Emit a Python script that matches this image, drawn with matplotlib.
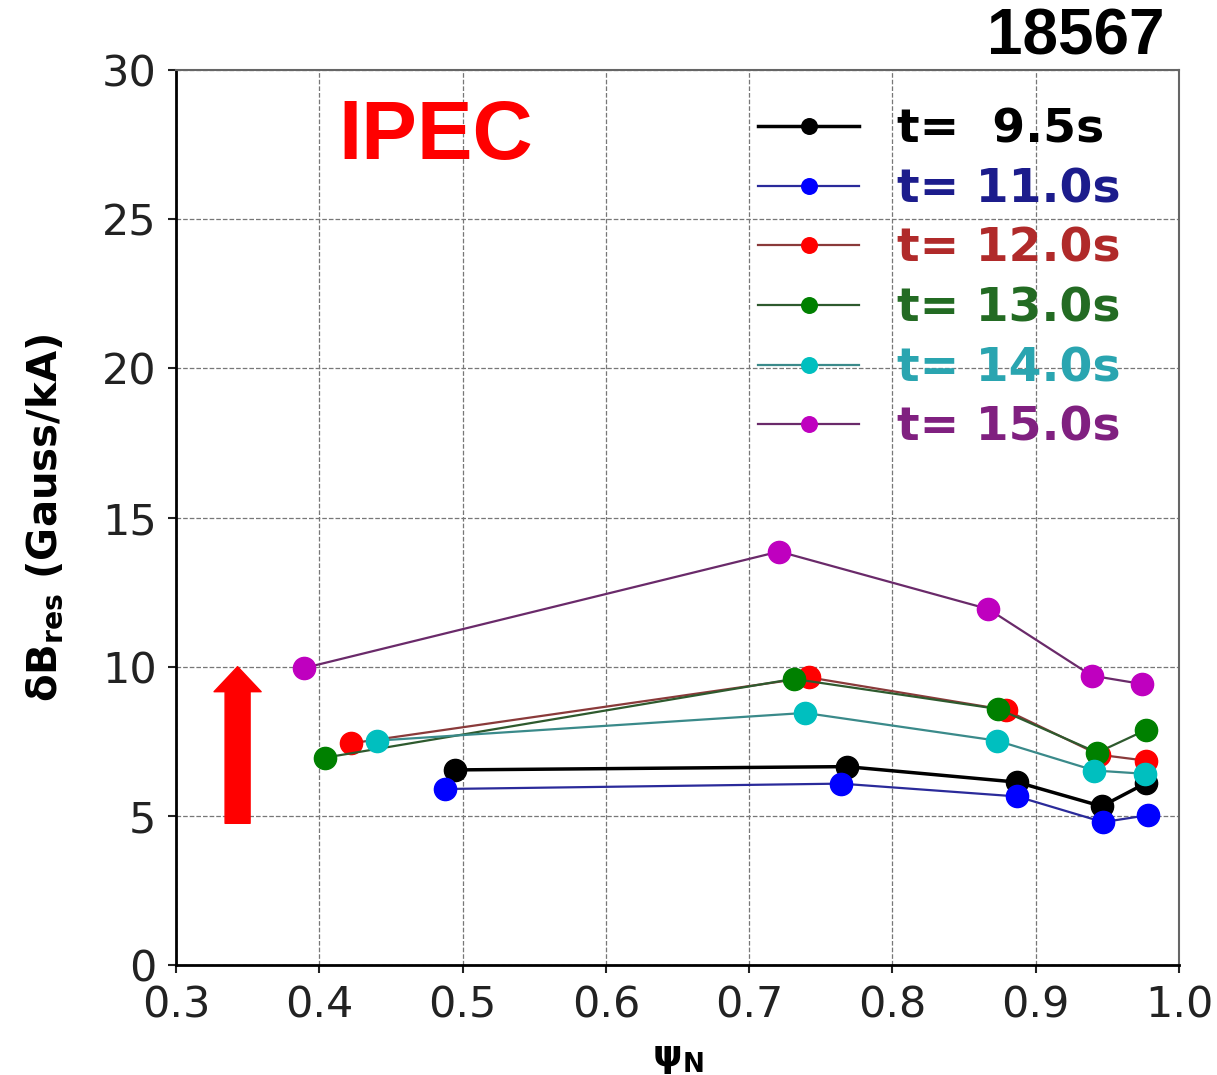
import matplotlib
matplotlib.use('Agg')
import matplotlib.pyplot as plt

# resonant field vs psi_N for each time slice
labels = ['t=  9.5s', 't= 11.0s', 't= 12.0s', 't= 13.0s', 't= 14.0s', 't= 15.0s']

psi_95 = [0.495, 0.768, 0.887, 0.946, 0.977]
db_95 = [6.54, 6.65, 6.13, 5.32, 6.10]

psi_110 = [0.488, 0.764, 0.887, 0.947, 0.978]
db_110 = [5.90, 6.08, 5.65, 4.79, 5.02]

psi_120 = [0.422, 0.742, 0.879, 0.944, 0.977]
db_120 = [7.43, 9.64, 8.55, 7.05, 6.85]

psi_130 = [0.404, 0.731, 0.874, 0.943, 0.977]
db_130 = [6.95, 9.59, 8.58, 7.12, 7.88]

psi_140 = [0.440, 0.739, 0.873, 0.941, 0.976]
db_140 = [7.52, 8.45, 7.52, 6.52, 6.41]

psi_150 = [0.389, 0.721, 0.867, 0.939, 0.974]
db_150 = [9.95, 13.86, 11.93, 9.70, 9.42]

marker_colors = ['black', 'blue', 'red', 'green', 'c', 'm']
line_colors = ['black', '#2a2a9a', '#8a3a3a', '#2e5a2e', '#3a8a8a', '#6a2a6a']
text_colors = ['black', '#1c1c8c', '#b02a2a', '#236b23', '#2aa5b0', '#802080']

fig = plt.figure(figsize=(12.17, 10.75), dpi=100)
ax = fig.add_axes([0.1446, 0.1023, 0.8242, 0.8326])

series = [(psi_95, db_95), (psi_110, db_110), (psi_120, db_120),
          (psi_130, db_130), (psi_140, db_140), (psi_150, db_150)]
for i, (x, y) in enumerate(series):
    lw = 2.5 if i == 0 else 1.6
    ax.plot(x, y, '-o', color=line_colors[i], lw=lw, ms=16,
            mfc=marker_colors[i], mec=marker_colors[i], label=labels[i])

ax.set_xlim(0.3, 1.0)
ax.set_ylim(0, 30)
ax.set_xticks([0.3, 0.4, 0.5, 0.6, 0.7, 0.8, 0.9, 1.0])
ax.set_yticks([0, 5, 10, 15, 20, 25, 30])
ax.tick_params(labelsize=31, length=6, width=1.5, direction='out', colors='#222222', pad=8)
ax.grid(True, ls='--', color='#777777', lw=0.9)
for s in ['left', 'bottom']:
    ax.spines[s].set_linewidth(2)
for s in ['top', 'right']:
    ax.spines[s].set_color('#666666')
    ax.spines[s].set_linewidth(1.5)

ax.set_ylabel(r'δB$_{\mathbf{res}}$ (Gauss/kA)', fontsize=29, fontweight='bold', labelpad=26)
ax.set_xlabel(r'ψ$_{\mathbf{N}}$', fontsize=27, fontweight='bold', labelpad=10)

leg = ax.legend(loc='upper left', frameon=False, prop={'size': 34, 'weight': 'bold'},
                markerscale=0.7, handlelength=2.15, handletextpad=0.8,
                labelspacing=0.31, borderpad=0, borderaxespad=0,
                bbox_to_anchor=(0.580, 0.958))
for txt, c in zip(leg.get_texts(), text_colors):
    txt.set_color(c)

ax.text(0.1615, 0.925, 'IPEC', transform=ax.transAxes, color='red', fontsize=60,
        fontweight='bold', family='Liberation Sans', ha='left', va='center')
fig.text(0.957, 0.965, '18567', color='black', fontsize=46, fontweight='bold',
         family='Liberation Sans', ha='right', va='center')

# upward arrow marking the increase
ax.annotate('', xy=(0.343, 10.0), xytext=(0.343, 4.75),
            arrowprops=dict(arrowstyle='simple,head_width=1.13,head_length=0.6,tail_width=0.6',
                            color='red', mutation_scale=30, shrinkA=0, shrinkB=0))

fig.savefig('out.png', dpi=100)
